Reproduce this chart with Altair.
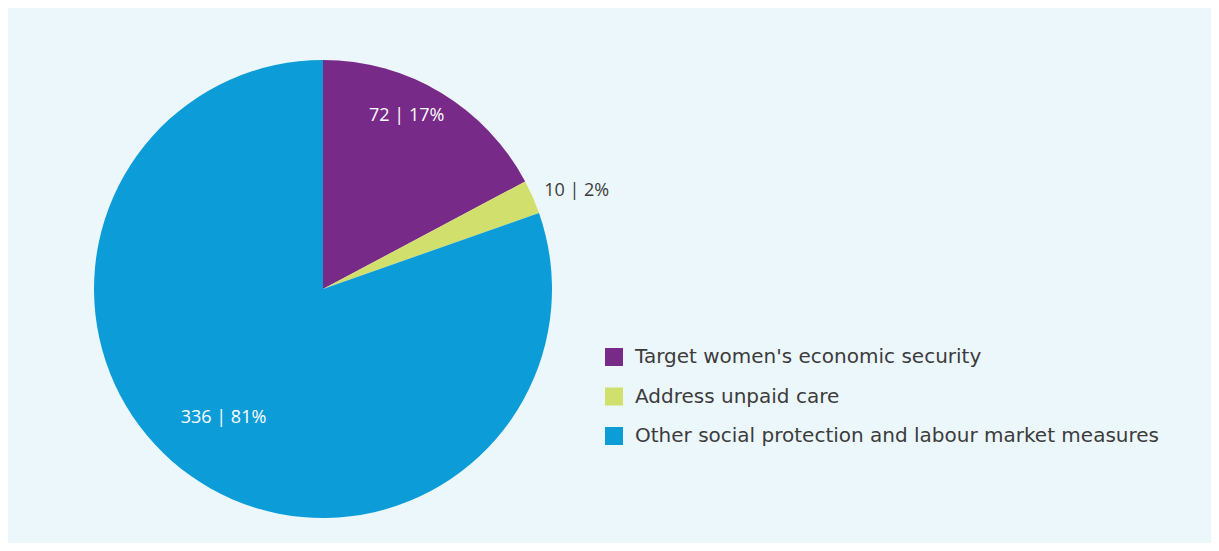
import math
import altair as alt
import pandas as pd

categories = ["Target women's economic security", "Address unpaid care",
              "Other social protection and labour market measures"]
counts = [72, 10, 336]
percents = [17, 2, 81]
colors = ["#782A89", "#D1DF6C", "#0C9DD8"]

df = pd.DataFrame({
    "category": categories,
    "count": counts,
    "pct": percents,
    "order": [0, 1, 2],
})
df["label"] = [f"{c} | {p}%" for c, p in zip(counts, percents)]
total = sum(counts)

W, H = 1203, 535
CX, CY = 315, 281
FONT = "Open Sans"
LEGEND_FONT = "DejaVu Sans"

color_scale = alt.Scale(domain=categories, range=colors)

pie = alt.Chart(df).mark_arc(outerRadius=229, stroke=None).encode(
    theta=alt.Theta("count:Q", stack=True),
    order=alt.Order("order:Q"),
    x=alt.value(CX), y=alt.value(CY),
    color=alt.Color("category:N", scale=color_scale, sort=categories,
                    legend=alt.Legend(
                        title=None, orient="none", legendX=596, legendY=339,
                        symbolType="square", symbolSize=324, symbolStrokeWidth=0,
                        labelFontSize=20, labelColor="#3C3C3C", labelFont=LEGEND_FONT,
                        rowPadding=19.5, padding=0, labelOffset=11,
                        labelLimit=700)),
)

mids = alt.Chart(df).transform_window(
    cum="sum(count)", sort=[alt.SortField("order")]
).transform_calculate(mid="datum.cum - datum.count / 2")

def label_layer(cat, r, toff, col):
    return mids.transform_filter(alt.datum.category == cat).mark_text(
        radius=r, thetaOffset=toff, fontSize=18, font=FONT, color=col
    ).encode(
        theta=alt.Theta("mid:Q", scale=alt.Scale(domain=[0, total], range=[0, 2 * math.pi])),
        x=alt.value(CX), y=alt.value(CY), text="label:N",
    )

chart = alt.layer(
    pie,
    label_layer(categories[0], 192, -0.09, "#FFFFFF"),
    label_layer(categories[1], 272, 0.045, "#3C3C3C"),
    label_layer(categories[2], 163, 0.04, "#FFFFFF"),
).properties(
    width=W, height=H, background="#ECF7FC",
    autosize=alt.AutoSizeParams(type="none"), padding=0,
).configure_view(stroke=None)

chart.save("out.html", embed_options={"renderer": "svg", "actions": False})
